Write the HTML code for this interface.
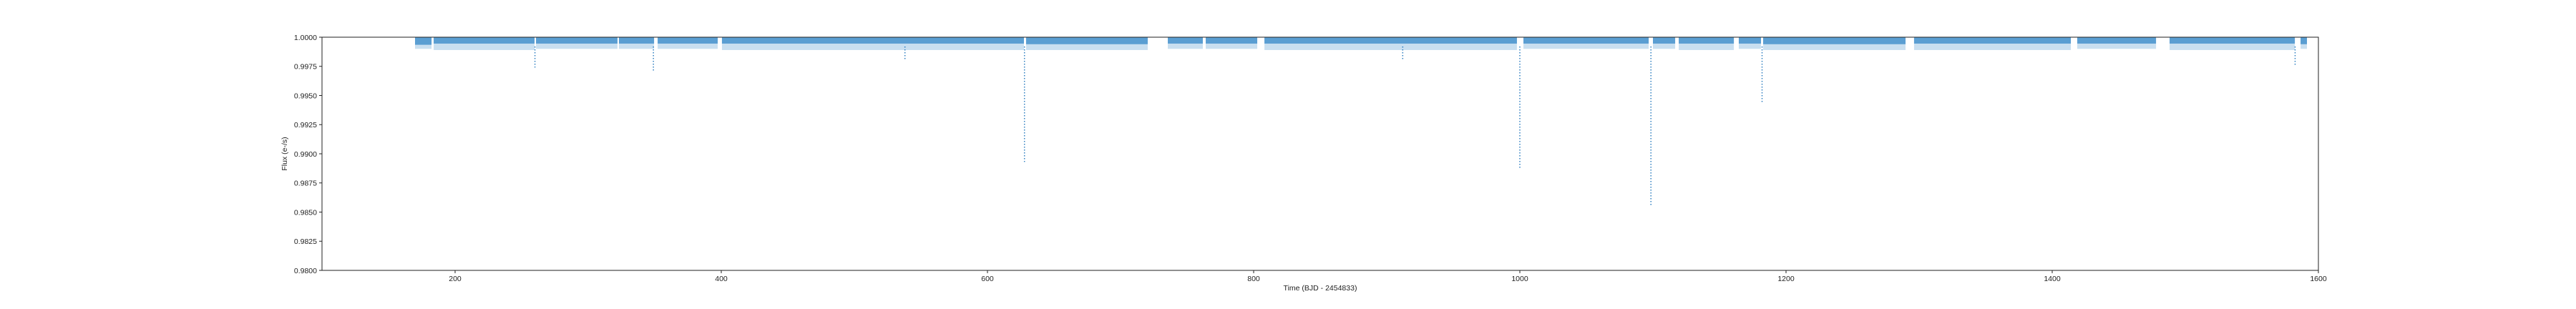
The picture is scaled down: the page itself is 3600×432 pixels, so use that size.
<!DOCTYPE html>
<html><head><meta charset="utf-8">
<style>
html,body{margin:0;padding:0;background:#fff;}
svg{display:block;font-family:"Liberation Sans","DejaVu Sans",sans-serif;}
</style></head>
<body>
<svg id="chart" width="3600" height="432" viewBox="0 0 3600 432" xmlns="http://www.w3.org/2000/svg"></svg>
<script>
// ---- data ----
const segStart = [169.9, 183.9, 260.8, 323.1, 352.2, 400.5, 629.0, 735.5, 764.0, 808.1, 1002.7, 1100.0, 1119.4, 1164.5, 1182.8, 1296.2, 1418.8, 1488.2, 1586.6];
const segEnd   = [182.3, 259.7, 322.0, 349.5, 397.3, 627.4, 720.4, 761.8, 802.7, 997.8, 1096.8, 1116.7, 1160.8, 1181.2, 1289.8, 1414.0, 1478.0, 1582.3, 1591.4];
const segDense = [0.99935, 0.99945, 0.99945, 0.99945, 0.99945, 0.99945, 0.9994, 0.99945, 0.99945, 0.99945, 0.99945, 0.99945, 0.99945, 0.99945, 0.9994, 0.99945, 0.99945, 0.99945, 0.9994];
const segSparse = [0.9990, 0.9989, 0.9990, 0.9990, 0.9990, 0.9989, 0.9989, 0.9990, 0.9990, 0.9989, 0.9990, 0.9990, 0.9989, 0.9990, 0.9989, 0.9989, 0.9990, 0.9989, 0.9990];
const dipTimes = [260.0, 349.0, 538.0, 627.8, 912.0, 1000.0, 1098.5, 1182.0, 1582.5];
const dipMin   = [0.9974, 0.9971, 0.9980, 0.9893, 0.9980, 0.9888, 0.9856, 0.9944, 0.9975];
const xTicks = [200, 400, 600, 800, 1000, 1200, 1400, 1600];
const yTicks = [0.9800, 0.9825, 0.9850, 0.9875, 0.9900, 0.9925, 0.9950, 0.9975, 1.0000];

// ---- axes ----
const L=450, R=3240, T=52, B=378;
const xMin=100, xMax=1600, yMin=0.98, yMax=1.0;
const xs = v => L + (v - xMin) / (xMax - xMin) * (R - L);
const ys = v => B - (v - yMin) / (yMax - yMin) * (B - T);
const NS='http://www.w3.org/2000/svg';
const svg=document.getElementById('chart');
function mk(tag, attrs, parent){const e=document.createElementNS(NS,tag);for(const k in attrs)e.setAttribute(k,attrs[k]);(parent||svg).appendChild(e);return e;}

const plot=mk('g',{});



for(let i=0;i<segStart.length;i++){
  const x0=xs(segStart[i]), x1=xs(segEnd[i]);
  const sp=mk('rect',{x:x0,y:ys(1.0),width:Math.max(1,x1-x0),height:ys(segSparse[i])-ys(1.0),fill:'#c9dff0'},plot);
  
  
  const dn=mk('rect',{x:x0,y:ys(1.0),width:Math.max(1,x1-x0),height:ys(segDense[i])-ys(1.0),fill:'#5a9ed2'},plot);
  
  
}
for(let i=0;i<dipTimes.length;i++){
  const x=xs(dipTimes[i]);
  const d=mk('line',{x1:x,x2:x,y1:ys(0.9992),y2:ys(dipMin[i]),stroke:'#2f7fc0','stroke-width':1.5,'stroke-dasharray':'1.5 2.5'},plot);
  
  
}

const frame=mk('rect',{x:L,y:T,width:R-L,height:B-T,fill:'none',stroke:'#222','stroke-width':1});



for(const t of xTicks){
  const x=xs(t);
  const tk=mk('line',{x1:x,x2:x,y1:B,y2:B+4,stroke:'#222'});
  
  
  const lb=mk('text',{x:x,y:B+15,'text-anchor':'middle','font-size':'10.5',fill:'#222'});
  lb.textContent=t;
  
  
}
for(const t of yTicks){
  const y=ys(t);
  const tk=mk('line',{x1:L-4,x2:L,y1:y,y2:y,stroke:'#222'});
  
  
  const lb=mk('text',{x:L-7,y:y+3.8,'text-anchor':'end','font-size':'10.5',fill:'#222'});
  lb.textContent=t.toFixed(4);
  
  
}
const xt=mk('text',{x:(L+R)/2,y:406,'text-anchor':'middle','font-size':'10.5',fill:'#222'});
xt.textContent='Time (BJD - 2454833)';


const yt=mk('text',{x:0,y:0,'text-anchor':'middle','font-size':'10.5',fill:'#222',transform:'translate(401,'+((T+B)/2)+') rotate(-90)'});
yt.textContent='Flux (e-/s)';


</script>
</body></html>
